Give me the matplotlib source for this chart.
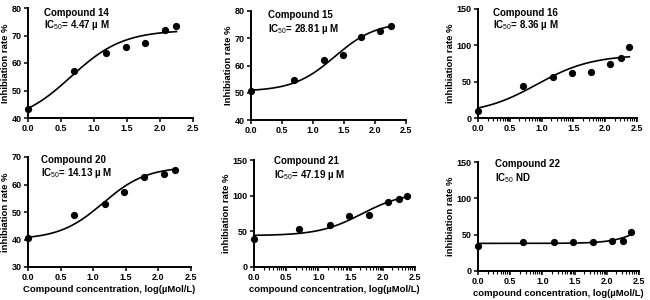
import numpy as np
import matplotlib
matplotlib.use("Agg")
import matplotlib.pyplot as plt

plt.rcParams['font.family'] = ['Liberation Sans', 'DejaVu Sans']
plt.rcParams['mathtext.fontset'] = 'custom'
plt.rcParams['mathtext.rm'] = 'Liberation Sans'
plt.rcParams['mathtext.default'] = 'rm'

# ---- data ----
names = ["Compound 14", "Compound 15", "Compound 16",
         "Compound 20", "Compound 21", "Compound 22"]
ic50_text = ["= 4.47 µ M", "= 28.81 µ M", "= 8.36 µ M",
             "= 14.13 µ M", "= 47.19 µ M", " ND"]

x14 = [0.0, 0.70, 1.18, 1.48, 1.78, 2.08, 2.25]
y14 = [43.2, 57.1, 63.7, 66.0, 67.3, 72.0, 73.3]
x15 = [0.0, 0.70, 1.18, 1.48, 1.78, 2.08, 2.25]
y15 = [50.8, 54.8, 62.1, 64.0, 70.4, 72.7, 74.4]
x16 = [0.0, 0.70, 1.18, 1.48, 1.78, 2.08, 2.25, 2.38]
y16 = [9.0, 44.0, 57.0, 62.0, 63.0, 75.0, 83.0, 98.0]
x20 = [0.0, 0.70, 1.18, 1.48, 1.78, 2.08, 2.25]
y20 = [40.6, 48.8, 52.8, 57.4, 62.6, 64.0, 65.3]
x21 = [0.0, 0.70, 1.18, 1.48, 1.78, 2.08, 2.25, 2.38]
y21 = [39.0, 53.0, 59.5, 71.0, 73.0, 90.5, 95.0, 99.5]
x22 = [0.0, 0.70, 1.18, 1.48, 1.78, 2.08, 2.25, 2.38]
y22 = [35.0, 39.5, 40.0, 40.5, 40.5, 41.5, 41.5, 53.0]

# fitted 4-parameter logistic curves (bottom, top, logIC50, hill)
fit14 = (38.0, 72.0, 0.65, 1.10)
fit15 = (50.5, 76.0, 1.35, 1.30)
fit16 = (5.0, 87.0, 0.92, 1.00)
fit20 = (40.0, 66.5, 1.15, 1.30)
fit21 = (44.0, 105.0, 1.674, 1.30)
fit22 = (38.0, 100.0, 2.73, 1.76)

xs = [x14, x15, x16, x20, x21, x22]
ys = [y14, y15, y16, y20, y21, y22]
fits = [fit14, fit15, fit16, fit20, fit21, fit22]

ylims = [(40, 80), (40, 80), (0, 150), (30, 70), (0, 150), (0, 150)]
yticks = [[40, 50, 60, 70, 80], [40, 50, 60, 70, 80], [0, 50, 100, 150],
          [30, 40, 50, 60, 70], [0, 50, 100, 150], [0, 50, 100, 150]]
xticks = [0.0, 0.5, 1.0, 1.5, 2.0, 2.5]
ylabels = ["Inhibiation rate %", "Inhibiation rate %", "inhibiation rate %",
           "inhibiation rate %", "inhibiation rate %", "inhibiation rate %"]
xlabels = ["", "", "", "Compound concentration, log(µMol/L)",
           "compound concentration, log(µMol/L)",
           "compound concentration, log(µMol/L)"]
minor = [False, False, True, False, True, True]

# ---- layout (pixels: left, right, top, bottom) ----
W, H = 650, 300
boxes = [(28, 193, 8, 118), (251, 406, 11, 120), (478, 637, 9, 118),
         (28, 191, 157, 267), (254, 415, 160, 267), (478, 639, 162, 271)]
text_pos = [(0.097, 0.955, 0.845), (0.11, 0.963, 0.835), (0.094, 0.963, 0.853),
            (0.08, 0.973, 0.855), (0.124, 0.99, 0.86), (0.106, 0.98, 0.85)]

fig = plt.figure(figsize=(6.5, 3.0), dpi=100)

for i in range(6):
    l, r, t, b = boxes[i]
    ax = fig.add_axes([l / W, 1 - b / H, (r - l) / W, (b - t) / H])
    xd, yd = xs[i], ys[i]
    bot, top, lic, h = fits[i]
    xc = np.linspace(0, max(xd), 200)
    yc = bot + (top - bot) / (1 + 10 ** ((lic - xc) * h))
    ax.plot(xc, yc, color='black', lw=1.2, clip_on=False)
    ax.plot(xd, yd, 'o', color='black', ms=4.2, clip_on=False, zorder=5)
    ax.set_xlim(0, 2.5)
    ax.set_ylim(*ylims[i])
    ax.set_xticks(xticks)
    ax.set_xticklabels([f"{v:.1f}" for v in xticks])
    ax.set_yticks(yticks[i])
    if minor[i]:
        mt = [a + 0.5 * np.log10(k) for a in [0, 0.5, 1.0, 1.5, 2.0] for k in range(2, 10)]
        ax.set_xticks(mt, minor=True)
        ax.tick_params(axis='x', which='minor', length=2, width=0.8)
    for s in ['top', 'right']:
        ax.spines[s].set_visible(False)
    for s in ['left', 'bottom']:
        ax.spines[s].set_linewidth(1.4)
    ax.tick_params(axis='both', which='major', length=3, width=1.1, labelsize=6.5, pad=1.5)
    for lab in ax.get_xticklabels() + ax.get_yticklabels():
        lab.set_fontweight('bold')
    ax.set_ylabel(ylabels[i], fontsize=6.8, fontweight='bold', labelpad=1.5)
    if xlabels[i]:
        ax.set_xlabel(xlabels[i], fontsize=6.8, fontweight='bold', labelpad=2)
    tx, ty1, ty2 = text_pos[i]
    ax.text(tx, ty1, names[i], transform=ax.transAxes, fontsize=7,
            fontweight='bold', va='center', ha='left')
    ax.text(tx, ty2, "IC$_{50}$" + ic50_text[i], transform=ax.transAxes, fontsize=7,
            fontweight='bold', va='center', ha='left')

fig.savefig("out.png", dpi=100)
